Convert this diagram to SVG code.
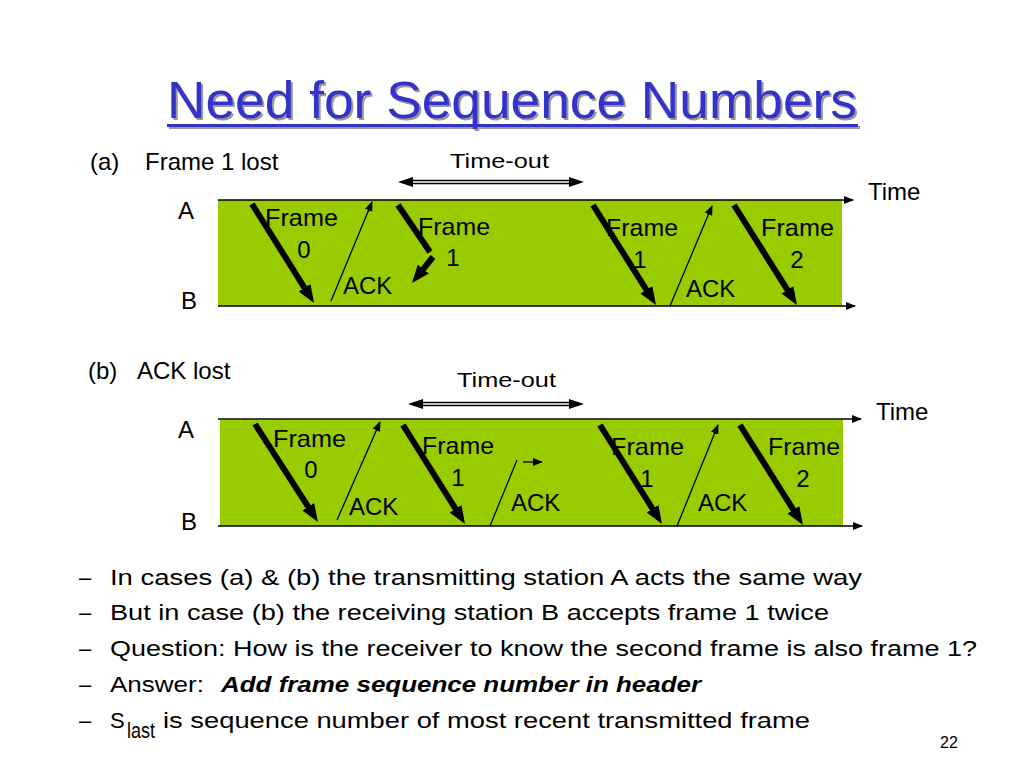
<svg xmlns="http://www.w3.org/2000/svg" width="1024" height="768" viewBox="0 0 1024 768">
<style>
.t{font-family:"Liberation Sans",Arial,sans-serif;fill:#000}
.lbl{font-size:24px}
.ax{stroke:#000;stroke-width:1.5;fill:none}
.thick{stroke:#000;stroke-width:6;fill:none}
.thin{stroke:#000;stroke-width:1.3;fill:none}
.band{fill:#99CC00}
.bul{font-family:"Liberation Sans",Arial,sans-serif;font-size:22px;fill:#000}
</style>
<defs>
<marker id="hb" markerUnits="userSpaceOnUse" markerWidth="18" markerHeight="14" refX="4" refY="7" orient="auto"><path d="M0,0 L18,7 L0,14 z" fill="#000"/></marker>
<marker id="hs" markerUnits="userSpaceOnUse" markerWidth="10" markerHeight="8" refX="9" refY="4" orient="auto"><path d="M0,0 L10,4 L0,8 z" fill="#000"/></marker>
</defs>
<rect width="1024" height="768" fill="#fff"/>

<g id="title">
<text x="169" y="120" class="t" font-size="52" textLength="690" lengthAdjust="spacingAndGlyphs" style="fill:#999">Need for Sequence Numbers</text>
<rect x="169" y="126" width="691" height="3" fill="#999"/>
<text x="167" y="118" class="t" font-size="52" textLength="690" lengthAdjust="spacingAndGlyphs" style="fill:#3333CC">Need for Sequence Numbers</text>
<rect x="167" y="124" width="691" height="3" fill="#3333CC"/>
</g>

<g id="diagram-a">
<text x="90" y="170" class="t lbl">(a)</text>
<text x="145" y="170" class="t lbl">Frame 1 lost</text>
<text x="450" y="168" class="t" font-size="21" textLength="99" lengthAdjust="spacingAndGlyphs">Time-out</text>
<rect class="band" x="218" y="200" width="624" height="106"/>
<text x="178" y="219" class="t lbl">A</text>
<text x="181" y="309" class="t lbl">B</text>
<text x="868" y="200" class="t lbl">Time</text>
<text x="265" y="226" class="t lbl" textLength="73" lengthAdjust="spacingAndGlyphs">Frame</text>
<text x="304" y="258" class="t lbl" text-anchor="middle">0</text>
<text x="418" y="235" class="t lbl" textLength="72" lengthAdjust="spacingAndGlyphs">Frame</text>
<text x="453" y="266" class="t lbl" text-anchor="middle">1</text>
<text x="343" y="294" class="t lbl">ACK</text>
<text x="606" y="236" class="t lbl" textLength="72" lengthAdjust="spacingAndGlyphs">Frame</text>
<text x="640" y="268" class="t lbl" text-anchor="middle">1</text>
<text x="686" y="297" class="t lbl">ACK</text>
<text x="761" y="236" class="t lbl" textLength="73" lengthAdjust="spacingAndGlyphs">Frame</text>
<text x="797" y="268" class="t lbl" text-anchor="middle">2</text>
</g>

<g id="diagram-b">
<text x="88" y="379" class="t lbl">(b)</text>
<text x="137" y="379" class="t lbl">ACK lost</text>
<text x="457" y="387" class="t" font-size="21" textLength="99" lengthAdjust="spacingAndGlyphs">Time-out</text>
<rect class="band" x="220" y="420" width="623" height="106"/>
<text x="178" y="438" class="t lbl">A</text>
<text x="181" y="530" class="t lbl">B</text>
<text x="876" y="420" class="t lbl">Time</text>
<text x="273" y="447" class="t lbl" textLength="73" lengthAdjust="spacingAndGlyphs">Frame</text>
<text x="311" y="478" class="t lbl" text-anchor="middle">0</text>
<text x="422" y="454" class="t lbl" textLength="72" lengthAdjust="spacingAndGlyphs">Frame</text>
<text x="458" y="486" class="t lbl" text-anchor="middle">1</text>
<text x="349" y="515" class="t lbl">ACK</text>
<text x="511" y="511" class="t lbl">ACK</text>
<text x="611" y="455" class="t lbl" textLength="73" lengthAdjust="spacingAndGlyphs">Frame</text>
<text x="647" y="487" class="t lbl" text-anchor="middle">1</text>
<text x="698" y="511" class="t lbl">ACK</text>
<text x="768" y="455" class="t lbl" textLength="72" lengthAdjust="spacingAndGlyphs">Frame</text>
<text x="803" y="487" class="t lbl" text-anchor="middle">2</text>
</g>

<g id="connectors">
<line class="ax" x1="218" y1="200" x2="853" y2="200" marker-end="url(#hs)"/>
<line class="ax" x1="218" y1="306" x2="855" y2="306" marker-end="url(#hs)"/>
<line class="thin" x1="410" y1="180.5" x2="572" y2="180.5"/>
<line class="thin" x1="410" y1="183.5" x2="572" y2="183.5"/>
<path d="M398,182 L413,177 L413,187 z M584,182 L569,177 L569,187 z" fill="#000"/>
<line class="thick" x1="252" y1="204" x2="306.6" y2="291.1" marker-end="url(#hb)"/>
<line class="thin" x1="331" y1="301" x2="372" y2="202" marker-end="url(#hs)"/>
<line class="thick" x1="398" y1="205" x2="430" y2="252"/>
<line class="thick" x1="433" y1="257" x2="420.8" y2="272.1" marker-end="url(#hb)"/>
<line class="thick" x1="593" y1="205" x2="648.5" y2="293.2" marker-end="url(#hb)"/>
<line class="thin" x1="670" y1="306" x2="712" y2="206" marker-end="url(#hs)"/>
<line class="thick" x1="734" y1="205" x2="789.5" y2="293.2" marker-end="url(#hb)"/>
<line class="ax" x1="218" y1="419" x2="861" y2="419" marker-end="url(#hs)"/>
<line class="ax" x1="218" y1="526" x2="862" y2="526" marker-end="url(#hs)"/>
<line class="thin" x1="420" y1="402.5" x2="572" y2="402.5"/>
<line class="thin" x1="420" y1="405.5" x2="572" y2="405.5"/>
<path d="M408,404 L423,399 L423,409 z M584,404 L569,399 L569,409 z" fill="#000"/>
<line class="thick" x1="255" y1="424" x2="310.4" y2="510.2" marker-end="url(#hb)"/>
<line class="thin" x1="337" y1="520" x2="380" y2="422" marker-end="url(#hs)"/>
<line class="thick" x1="403" y1="425" x2="457.6" y2="512.1" marker-end="url(#hb)"/>
<line class="thin" x1="490" y1="526" x2="517" y2="460"/>
<line class="thin" x1="523" y1="462" x2="542" y2="462" marker-end="url(#hs)"/>
<line class="thick" x1="600" y1="425" x2="654.6" y2="512.1" marker-end="url(#hb)"/>
<line class="thin" x1="677" y1="526" x2="718" y2="425" marker-end="url(#hs)"/>
<line class="thick" x1="740" y1="425" x2="795.5" y2="513.2" marker-end="url(#hb)"/>
</g>

<g id="bullets">
<text x="79" y="585" class="bul">–</text>
<text x="110" y="585" class="bul" textLength="752" lengthAdjust="spacingAndGlyphs">In cases (a) &amp; (b) the transmitting station A acts the same way</text>
<text x="79" y="620" class="bul">–</text>
<text x="110" y="620" class="bul" textLength="719" lengthAdjust="spacingAndGlyphs">But in case (b) the receiving station B accepts frame 1 twice</text>
<text x="79" y="656" class="bul">–</text>
<text x="110" y="656" class="bul" textLength="867" lengthAdjust="spacingAndGlyphs">Question: How is the receiver to know the second frame is also frame 1?</text>
<text x="79" y="692" class="bul">–</text>
<text x="110" y="692" class="bul" textLength="94" lengthAdjust="spacingAndGlyphs">Answer:</text>
<text x="221" y="692" class="bul" font-weight="bold" font-style="italic" textLength="480" lengthAdjust="spacingAndGlyphs">Add frame sequence number in header</text>
<text x="79" y="728" class="bul">–</text>
<text x="110" y="728" class="bul">S</text>
<text x="127" y="738" class="bul" font-size="14" textLength="28" lengthAdjust="spacingAndGlyphs">last</text>
<text x="163" y="728" class="bul" textLength="647" lengthAdjust="spacingAndGlyphs">is sequence number of most recent transmitted frame</text>
<text x="940" y="748" class="t" font-size="16">22</text>
</g>
</svg>
